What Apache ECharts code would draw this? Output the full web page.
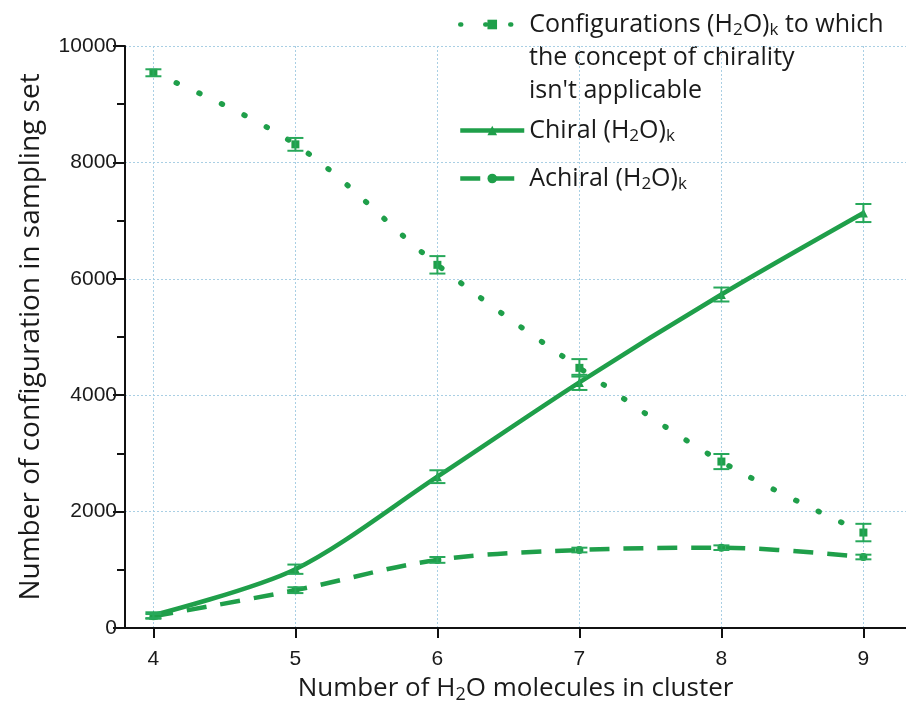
<!DOCTYPE html>
<html><head><meta charset="utf-8">
<script src="https://cdn.jsdelivr.net/npm/echarts@6/dist/echarts.min.js"></script>
<style>html,body{margin:0;padding:0;background:#fff}#c{width:906px;height:702px}</style>
</head><body><div id="c"></div>
<script>
// ---- data ----
const xValues = [4, 5, 6, 7, 8, 9];
const notApplicable = [9540, 8310, 6240, 4470, 2860, 1640];
const notApplicableErr = [60, 110, 150, 150, 130, 150];
const chiral = [220, 1010, 2600, 4220, 5730, 7130];
const chiralErr = [50, 80, 110, 130, 120, 155];
const achiral = [200, 650, 1170, 1340, 1380, 1220];
const achiralErr = [40, 50, 50, 40, 40, 40];
const xTicks = [4, 5, 6, 7, 8, 9];

const GREEN = '#1f9f4a';
const ERR = '#27a85a';
const GRIDC = '#a9cfe4';
const FONT = '"Open Sans", sans-serif';
const TFONT = '"Liberation Sans", Arial, sans-serif';
const sub = { fontSize: 17, fontFamily: FONT, color: '#1a1a1a', padding: [12, 0, 0, 0] };

function pairs(ys) { return xValues.map((x, i) => [x, ys[i]]); }
function errData(ys, es) { return xValues.map((x, i) => [x, ys[i] - es[i], ys[i] + es[i]]); }
function errRender(params, api) {
  const x = api.value(0);
  const top = api.coord([x, api.value(2)]);
  const bot = api.coord([x, api.value(1)]);
  const w = 8;
  const st = { stroke: ERR, lineWidth: 2 };
  return { type: 'group', children: [
    { type: 'line', shape: { x1: top[0], y1: top[1], x2: bot[0], y2: bot[1] }, style: st },
    { type: 'line', shape: { x1: top[0] - w, y1: top[1], x2: top[0] + w, y2: top[1] }, style: st },
    { type: 'line', shape: { x1: bot[0] - w, y1: bot[1], x2: bot[0] + w, y2: bot[1] }, style: st }
  ]};
}
const names = {
  na: 'Configurations (H{sub|2}O){sub|k} to which',
  chiral: 'Chiral (H{sub|2}O){sub|k}',
  achiral: 'Achiral (H{sub|2}O){sub|k}'
};
const legendText = { fontSize: 25, fontFamily: FONT, color: '#1a1a1a', rich: { sub: sub } };

const chart = echarts.init(document.getElementById('c'), null, { renderer: 'canvas' });
chart.setOption({
  animation: false,
  backgroundColor: '#fff',
  grid: { left: 125, right: 0, top: 46, bottom: 74, containLabel: false, outerBoundsMode: 'none' },
  xAxis: {
    type: 'value', min: 3.8, max: 9.3,
    name: 'Number of H{sub|2}O molecules in cluster',
    nameLocation: 'middle', nameGap: 46,
    nameTextStyle: { fontSize: 26, fontFamily: FONT, color: '#1a1a1a', rich: { sub: Object.assign({}, sub, { fontSize: 18 }) } },
    axisLine: { onZero: false, lineStyle: { color: '#111', width: 2 } },
    axisTick: { show: true, customValues: xTicks, length: 10, lineStyle: { color: '#111', width: 2 } },
    axisLabel: { customValues: xTicks, fontSize: 21, fontFamily: TFONT, color: '#1a1a1a', margin: 21 },
    splitLine: { show: true, lineStyle: { color: GRIDC, type: [2, 2], width: 1 } }
  },
  yAxis: {
    type: 'value', min: 0, max: 10000, interval: 2000,
    name: 'Number of configuration in sampling set',
    nameLocation: 'middle', nameGap: 80,
    nameTextStyle: { fontSize: 28, fontFamily: FONT, color: '#1a1a1a' },
    axisLine: { show: true, lineStyle: { color: '#111', width: 2 } },
    axisTick: { show: true, length: 12, lineStyle: { color: '#111', width: 2 } },
    minorTick: { show: true, splitNumber: 2, length: 8, lineStyle: { color: '#111', width: 2 } },
    axisLabel: { fontSize: 21, fontFamily: TFONT, color: '#1a1a1a', margin: 8, formatter: v => String(v) },
    splitLine: { show: true, lineStyle: { color: GRIDC, type: [2, 2], width: 1 } }
  },
  legend: [
    { data: ['na'], left: 453, top: 7, orient: 'vertical', itemWidth: 64, itemHeight: 12,
      lineStyle: { width: 4.5 }, formatter: n => names[n], textStyle: legendText },
    { data: ['chiral', 'achiral'], left: 453, top: 113, orient: 'vertical', itemGap: 21,
      itemWidth: 64, itemHeight: 12, lineStyle: { width: 4.5 }, formatter: n => names[n], textStyle: legendText }
  ],
  graphic: [
    { type: 'text', left: 529, top: 45, style: { text: 'the concept of chirality', font: '25px ' + FONT, fill: '#1a1a1a' } },
    { type: 'text', left: 529, top: 78, style: { text: "isn't applicable", font: '25px ' + FONT, fill: '#1a1a1a' } }
  ],
  series: [
    { name: 'na', type: 'line', data: pairs(notApplicable), smooth: 0.35,
      symbol: 'rect', symbolSize: 8, itemStyle: { color: GREEN },
      lineStyle: { color: GREEN, width: 5.5, type: [1, 24], cap: 'round' } },
    { name: 'chiral', type: 'line', data: pairs(chiral), smooth: 0.3,
      symbol: 'triangle', symbolSize: 9, itemStyle: { color: GREEN },
      lineStyle: { color: GREEN, width: 4.5 } },
    { name: 'achiral', type: 'line', data: pairs(achiral), smooth: 0.35,
      symbol: 'circle', symbolSize: 8, itemStyle: { color: GREEN },
      lineStyle: { color: GREEN, width: 4.5, type: [20, 14] } },
    { type: 'custom', data: errData(notApplicable, notApplicableErr), renderItem: errRender, z: 5 },
    { type: 'custom', data: errData(chiral, chiralErr), renderItem: errRender, z: 5 },
    { type: 'custom', data: errData(achiral, achiralErr), renderItem: errRender, z: 5 }
  ]
});
</script></body></html>
